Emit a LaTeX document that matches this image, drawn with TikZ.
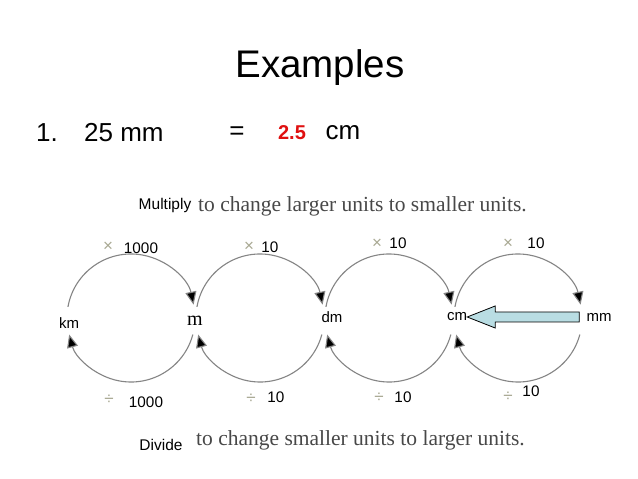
\documentclass[tikz,border=0pt]{standalone}
\usepackage{fontspec}
\setmainfont{Liberation Sans}
\newfontfamily\seriffont{Liberation Serif}
\usetikzlibrary{arrows.meta,calc}
\definecolor{arcgray}{HTML}{858585}
\definecolor{opgray}{HTML}{A8A892}
\definecolor{txtgray}{HTML}{484848}
\definecolor{ansred}{HTML}{E01010}
\definecolor{arrowblue}{HTML}{B9DDE3}
\tikzset{
  fs/.style={font=\fontsize{#1}{#1}\selectfont},
  lbl/.style={inner sep=0pt},
  unitlbl/.style={lbl,font=\fontsize{15}{15}\selectfont},
  numlbl/.style={lbl,font=\fontsize{15.3}{15}\selectfont},
  oplbl/.style={lbl,text=opgray,font=\fontsize{17}{17}\selectfont},
  cyclearc/.style={draw=arcgray,line width=1.1pt,-{Triangle[length=13pt,width=11pt,fill=black]}},
  blockarrow/.style={draw=black,line width=0.8pt,fill=arrowblue},
  serifnote/.style={lbl,text=txtgray,font=\seriffont\fontsize{21.5}{22}\selectfont},
  sansnote/.style={lbl,font=\fontsize{15.5}{15.5}\selectfont}
}
\begin{document}
\begin{tikzpicture}[x=1pt,y=1pt]
\useasboundingbox[fill=white] (0,0) rectangle (638,479);
% title and example
\node[lbl,fs=38.5] (title) at (320,411) {Examples};
\node[lbl,fs=26,anchor=west] (num) at (36,346) {1.};
\node[lbl,fs=26,anchor=west] (q) at (84,346) {25 mm};
\node[lbl,fs=26] (eq) at (237,346) {=};
\node[lbl,text=ansred,font=\bfseries\fontsize{20}{20}\selectfont] (ans) at (292,346) {2.5};
\node[lbl,fs=26] (ansu) at (343,346) {cm};
% headings
\node[sansnote] (mult) at (165,274) {Multiply};
\node[serifnote,anchor=west] (multtxt) at (198,273) {to change larger units to smaller units.};
\node[sansnote] (div) at (161,34) {Divide};
\node[serifnote,anchor=west] (divtxt) at (196,39) {to change smaller units to larger units.};
% centres
\coordinate (c1) at (131,161);
\coordinate (c2) at (260,161);
\coordinate (c3) at (389,161);
\coordinate (c4) at (518,161);
% units
\node[unitlbl] (km) at (69,156) {km};
\node[lbl,font=\seriffont\fontsize{20}{20}\selectfont] (m) at (195,158) {m};
\node[unitlbl] (dm) at (332,162) {dm};
\node[unitlbl] (cm) at (457,162) {cm};
\node[unitlbl] (mm) at (599,162) {mm};
% arcs
\foreach \c in {c1,c2,c3,c4}{
  \draw[cyclearc] (\c) ++(170:64) arc[start angle=170,end angle=12,radius=64];
  \draw[cyclearc] (\c) ++(-15:64) arc[start angle=-15,end angle=-165,radius=64];
}
% multiply labels
\node[oplbl] (x1) at (108,232) {×};
\node[numlbl] (n1) at (141,231) {1000};
\node[oplbl] (x2) at (249,232) {×};
\node[numlbl] (n2) at (270,232) {10};
\node[oplbl] (x3) at (377,235) {×};
\node[numlbl] (n3) at (398,236) {10};
\node[oplbl] (x4) at (508,235) {×};
\node[numlbl] (n4) at (536,236) {10};
% divide labels
\node[oplbl] (d1) at (109,79) {÷};
\node[numlbl] (m1) at (146,77) {1000};
\node[oplbl] (d2) at (251,80) {÷};
\node[numlbl] (m2) at (276,82) {10};
\node[oplbl] (d3) at (379,81) {÷};
\node[numlbl] (m3) at (403,82) {10};
\node[oplbl] (d4) at (508,82) {÷};
\node[numlbl] (m4) at (531,88) {10};
% block arrow from mm to cm
\coordinate (atail) at ($(mm.west)+(-7,0)$);
\coordinate (atip) at ($(cm.east)+(0,0)$);
\draw[blockarrow] let \p1=(atail), \p2=(atip) in
  (\x2,\y2) -- (\x2+28pt,\y2+11pt) -- (\x2+28pt,\y2+5pt) -- (\x1,\y1+5pt)
  -- (\x1,\y1-5pt) -- (\x2+28pt,\y2-5pt) -- (\x2+28pt,\y2-11pt) -- cycle;
\end{tikzpicture}
\end{document}
